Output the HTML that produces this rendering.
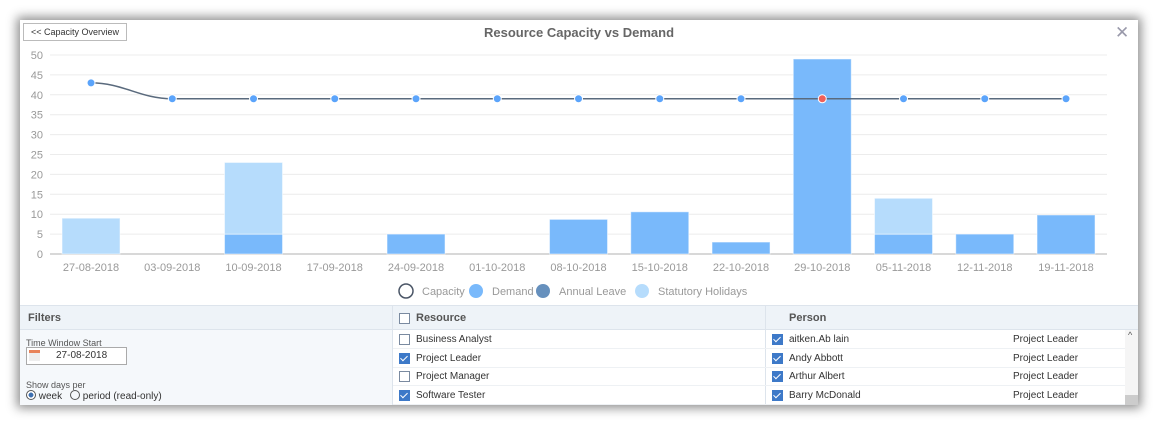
<!DOCTYPE html>
<html><head><meta charset="utf-8"><style>
body{margin:0;width:1158px;height:425px;background:#fff;font-family:"Liberation Sans",sans-serif;overflow:hidden;position:relative}
#panel{position:absolute;left:20px;top:20px;width:1118px;height:385px;background:#fff;box-shadow:0 0 10px 3px rgba(0,0,0,0.45);overflow:hidden}
.abs{position:absolute}
.cb{position:absolute;width:9px;height:9px;border:1px solid #7a8aa0;background:#fff;box-sizing:content-box}
.cb.on{background:#3d79c8;border-color:#3d79c8}
.cb.on::after{content:"";position:absolute;left:2px;top:0px;width:3px;height:6px;border:solid #fff;border-width:0 1.5px 1.5px 0;transform:rotate(45deg)}
.t{position:absolute;font-size:10px;color:#333}
</style></head><body>
<div id="panel">
<div class="abs" style="left:3px;top:3px;width:102px;height:16px;border:1px solid #bbb;font-size:9px;color:#333;text-align:center;line-height:16px;white-space:nowrap">&lt;&lt; Capacity Overview</div>
<div class="abs" style="left:0;width:1118px;top:5px;text-align:center;font-size:13px;font-weight:bold;color:#666">Resource Capacity vs Demand</div>
<div class="abs" style="left:1095px;top:3px;font-size:17px;color:#99a">✕</div>
<svg id="chart" class="abs" style="left:0;top:0" width="1118" height="290"></svg>
<div class="abs" style="left:0;top:285px;width:1118px;height:1px;background:#dde4ec"></div>
<div class="abs" style="left:0;top:286px;width:1118px;height:23px;background:#eef3f8;border-bottom:1px solid #dde4ec"></div>
<div class="abs" style="left:0;top:310px;width:372px;height:75px;background:#f5f8fb"></div>
<div class="abs" style="left:372px;top:286px;width:1px;height:99px;background:#dde4ec"></div>
<div class="abs" style="left:745px;top:286px;width:1px;height:99px;background:#dde4ec"></div>
<div class="t" style="left:8px;top:292px;font-weight:bold;color:#555;font-size:11px">Filters</div>
<div class="cb" style="left:379px;top:293px"></div>
<div class="t" style="left:396px;top:292px;font-weight:bold;color:#555;font-size:11px">Resource</div>
<div class="t" style="left:769px;top:292px;font-weight:bold;color:#555;font-size:11px">Person</div>
<div class="t" style="left:6px;top:318px;font-size:9px;color:#555">Time Window Start</div>
<div class="abs" style="left:6px;top:327px;width:99px;height:16px;border:1px solid #aaa;background:#fff;font-size:10px;line-height:16px"><span style="position:absolute;left:2px;top:2px;width:11px;height:11px;background:#eee;border-top:3px solid #e8835a;box-sizing:border-box"></span><span style="position:absolute;left:29px;color:#333">27-08-2018</span></div>
<div class="t" style="left:6px;top:360px;font-size:9px;color:#555">Show days per</div>
<div class="t" style="left:6px;top:370px"><span style="display:inline-block;width:8px;height:8px;border:1px solid #555;border-radius:50%;vertical-align:-1px;background:radial-gradient(#3d6fb0 40%,#fff 45%)"></span> week</div>
<div class="t" style="left:50px;top:370px"><span style="display:inline-block;width:8px;height:8px;border:1px solid #555;border-radius:50%;vertical-align:-1px"></span> period (read-only)</div>
<div id="rows"></div>
<div class="abs" style="left:1105px;top:310px;width:13px;height:75px;background:#f5f5f5"><div style="position:absolute;top:0;left:3px;font-size:9px;color:#555">^</div><div style="position:absolute;bottom:0;width:13px;height:10px;background:#ccc"></div></div>
</div>
<script>
const categories=["27-08-2018","03-09-2018","10-09-2018","17-09-2018","24-09-2018","01-10-2018","08-10-2018","15-10-2018","22-10-2018","29-10-2018","05-11-2018","12-11-2018","19-11-2018"];
const demand=[0,0,5,0,5,0,8.7,10.6,3,49,5,5,9.8];
const annualLeave=[0,0,0,0,0,0,0,0,0,0,0,0,0];
const statutory=[9,0,18,0,0,0,0,0,0,0,9,0,0];
const capacity=[43,39,39,39,39,39,39,39,39,39,39,39,39];
const yTicks=[0,5,10,15,20,25,30,35,40,45,50];
const NS="http://www.w3.org/2000/svg";
const svg=document.getElementById('chart');
const x0=30.4,bw=81.25,y0=234,ppu=3.98;
const xc=i=>x0+bw*(i+0.5);
const y=v=>y0-v*ppu;
function mk(t,a){const e=document.createElementNS(NS,t);for(const k in a)e.setAttribute(k,a[k]);svg.appendChild(e);return e;}
yTicks.forEach(v=>{
 const l=mk('line',{x1:30,x2:1087,y1:y(v),y2:y(v),stroke:v==0?'#ccc':'#ececec','stroke-width':v==0?1.5:1});
 
 
 const t=mk('text',{x:23,y:y(v)+4,'text-anchor':'end','font-size':11,fill:'#999'});t.textContent=v;
 
 
});
categories.forEach((c,i)=>{
 const t=mk('text',{x:xc(i),y:251,'text-anchor':'middle','font-size':11,fill:'#999'});t.textContent=c;
 
 
 let base=0;
 [[demand,'#79b9fb','demand-bar'],[annualLeave,'#6690bd','annual-leave-bar'],[statutory,'#b6dcfc','statutory-bar']].forEach(([arr,col,nm])=>{
  const v=arr[i];if(v>0){const r=mk('rect',{x:xc(i)-29,width:58,y:y(base+v),height:v*ppu,fill:col,stroke:'#fff','stroke-opacity':0.5});
  
  
  base+=v;}
 });
});
let d=`M${xc(0)},${y(capacity[0])}`;
for(let i=1;i<capacity.length;i++){const px=xc(i-1),py=y(capacity[i-1]),cx=xc(i),cy=y(capacity[i]);d+=` C${px+bw*0.4},${py} ${cx-bw*0.4},${cy} ${cx},${cy}`;}
const p=mk('path',{d:d,fill:'none',stroke:'#5a6a7d','stroke-width':1.5});


capacity.forEach((v,i)=>{
 const tot=demand[i]+annualLeave[i]+statutory[i];
 const c=mk('circle',{cx:xc(i),cy:y(v),r:4,fill:tot>v?'#f0605a':'#5ba4fb',stroke:'#fff','stroke-width':1});
 
 
});
const leg=[['Capacity','none','#4a5566',380],['Demand','#79b9fb','none',450],['Annual Leave','#6690bd','none',517],['Statutory Holidays','#b6dcfc','none',616]];
leg.forEach(([n,f,s,lx])=>{
 const c=mk('circle',{cx:lx+6,cy:271,r:7,fill:f,stroke:s,'stroke-width':1.5});
 
 
 const t=mk('text',{x:lx+22,y:275,'font-size':11,fill:'#999'});t.textContent=n;
 
 
});
const resources=[["Business Analyst",0],["Project Leader",1],["Project Manager",0],["Software Tester",1]];
const persons=["aitken.Ab lain","Andy Abbott","Arthur Albert","Barry McDonald"];
const rows=document.getElementById('rows');
resources.forEach((r,i)=>{
 const top=310+i*18.7;
 rows.insertAdjacentHTML('beforeend',
 `<div class="abs" style="left:373px;top:${top+18}px;width:732px;height:1px;background:#eef1f4"></div>`+
 `<div class="cb ${r[1]?'on':''}" style="left:379px;top:${top+4}px"></div>`+
 `<div class="t" style="left:396px;top:${top+4}px">${r[0]}</div>`+
 `<div class="cb on" style="left:752px;top:${top+4}px"></div>`+
 `<div class="t" style="left:769px;top:${top+4}px">${persons[i]}</div>`+
 `<div class="t" style="left:993px;top:${top+4}px">Project Leader</div>`);
});
</script>
</body></html>
